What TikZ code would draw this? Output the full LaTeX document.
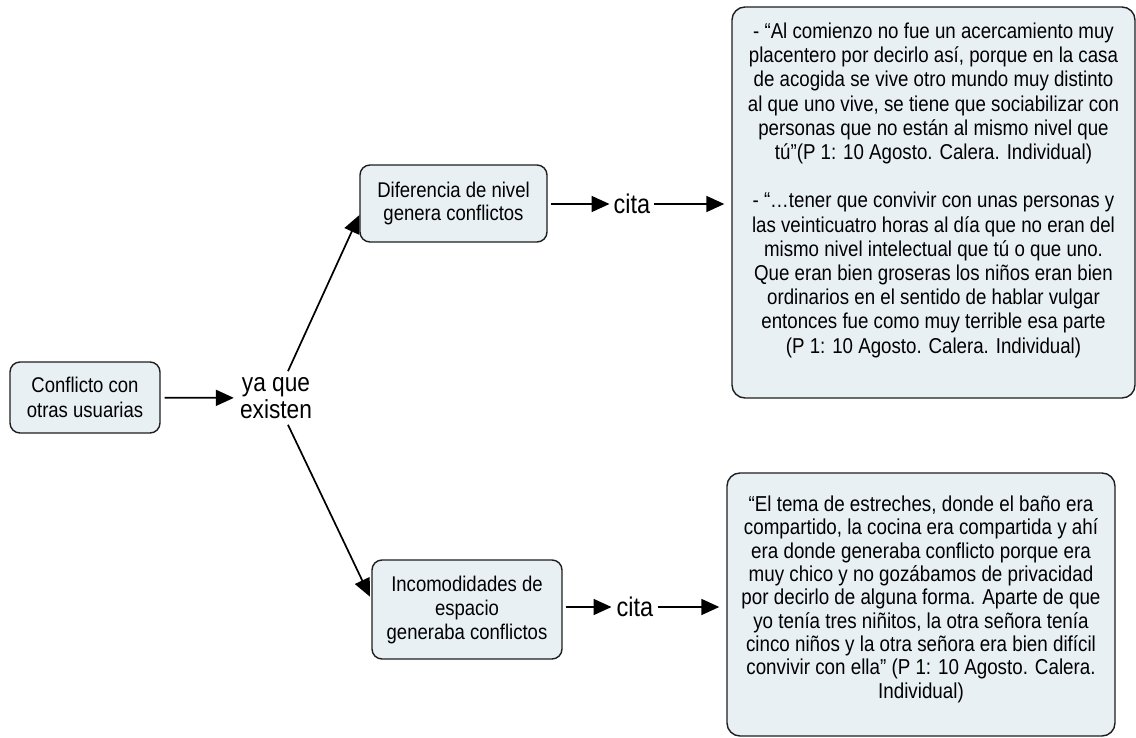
\documentclass[tikz,border=0pt]{standalone}
\usepackage{fontspec}
\setmainfont{Liberation Sans}[FakeStretch=0.87]
\usetikzlibrary{arrows.meta,calc}
\definecolor{boxfill}{RGB}{232,240,244}
\definecolor{boxline}{RGB}{30,30,30}
\tikzset{
  concept/.style={draw=boxline, fill=boxfill, line width=1.4pt, rounded corners=10pt,
    align=center, inner sep=2pt, font=\fontsize{21.3}{23.5}\selectfont},
  quotebox/.style={draw=boxline, fill=boxfill, line width=1.4pt, rounded corners=13pt,
    inner xsep=4pt},
  linklabel/.style={align=center, inner sep=4pt, font=\fontsize{27}{27}\selectfont},
  arr/.style={-{Triangle[length=18pt,width=16pt]}, line width=1.7pt, draw=black},
}
\begin{document}
\begin{tikzpicture}[x=1pt,y=-1pt]
\useasboundingbox (0,0) rectangle (1136,738);

\node[concept, minimum width=150pt, minimum height=71pt,
  font=\fontsize{21.3}{25}\selectfont] (left) at (85,397.5) {Conflicto con\\otras usuarias};

\node[linklabel, inner sep=6pt, font=\fontsize{26.1}{27}\selectfont] (yaque) at (276,398) {ya que\\existen};

\node[concept, minimum width=187pt, minimum height=77pt] (diff) at (453.5,203.5)
  {Diferencia de nivel\\genera conflictos};

\node[linklabel] (cita1) at (632,204) {cita};

\node[quotebox, inner ysep=16pt] (topbox) at (933.5,202.5)
  {\parbox[c][359pt][t]{395pt}{\centering\fontsize{21.5}{24.2}\selectfont
  - “Al comienzo no fue un acercamiento muy\\
  placentero por decirlo así, porque en la casa\\
  de acogida se vive otro mundo muy distinto\\
  al que uno vive, se tiene que sociabilizar con\\
  personas que no están al mismo nivel que\\
  tú"(P 1: 10 Agosto. Calera. Individual)\\[24.2pt]
  - “…tener que convivir con unas personas y\\
  las veinticuatro horas al día que no eran del\\
  mismo nivel intelectual que tú o que uno.\\
  Que eran bien groseras los niños eran bien\\
  ordinarios en el sentido de hablar vulgar\\
  entonces fue como muy terrible esa parte\\
  (P 1: 10 Agosto. Calera. Individual)}};

\node[concept, minimum width=190pt, minimum height=99pt,
  font=\fontsize{21.3}{24}\selectfont] (inc) at (467,609.5)
  {Incomodidades de\\espacio\\generaba conflictos};

\node[linklabel, inner sep=5pt] (cita2) at (635,607) {cita};

\node[quotebox, inner ysep=23pt] (botbox) at (921,604.5)
  {\parbox[c][217pt][t]{380pt}{\centering\fontsize{21.6}{23.3}\selectfont
  “El tema de estreches, donde el baño era\\
  compartido, la cocina era compartida y ahí\\
  era donde generaba conflicto porque era\\
  muy chico y no gozábamos de privacidad\\
  por decirlo de alguna forma. Aparte de que\\
  yo tenía tres niñitos, la otra señora tenía\\
  cinco niños y la otra señora era bien difícil\\
  convivir con ella" (P 1: 10 Agosto. Calera.\\
  Individual)}};

\draw[arr, shorten <=4pt] (left) -- (yaque);
\draw[arr] ([xshift=12pt]yaque.north) -- (diff.187);
\draw[arr, shorten >=3pt] ([xshift=12pt]yaque.south) -- (inc.174);
\draw[arr, shorten <=3pt] (diff.east |- cita1.west) -- (cita1.west);
\draw[arr, shorten >=7pt] (cita1.east) -- (cita1.east -| topbox.west);
\draw[arr, shorten <=3pt] (inc.east |- cita2.west) -- (cita2.west);
\draw[arr, shorten >=7pt] (cita2.east) -- (cita2.east -| botbox.west);
\end{tikzpicture}
\end{document}
